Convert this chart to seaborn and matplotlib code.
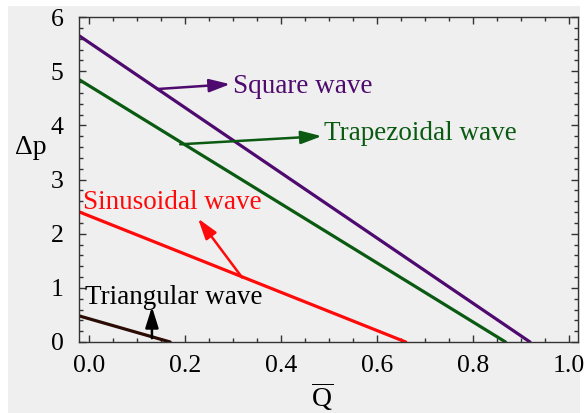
import numpy as np
import pandas as pd
import matplotlib
matplotlib.use("Agg")
import matplotlib.pyplot as plt
from matplotlib.patches import Rectangle
from matplotlib.ticker import MultipleLocator
import seaborn as sns

# ---- data ----
waves = ["Square wave", "Trapezoidal wave", "Sinusoidal wave", "Triangular wave"]
q_start = [-0.02, -0.02, -0.02, -0.02]
dp_start = [5.65, 4.84, 2.40, 0.48]
q_end = [0.919, 0.868, 0.660, 0.169]
dp_end = [0.0, 0.0, 0.0, 0.0]
colors = ["#4e0a6e", "#0b5a12", "#ff0a0a", "#2a0c04"]
text_colors = ["#4e0a6e", "#0b5a12", "#ff0a0a", "#000000"]
x_ticks = [0.0, 0.2, 0.4, 0.6, 0.8, 1.0]
x_tick_labels = ["0.0", "0.2", "0.4", "0.6", "0.8", "1.0"]
y_ticks = [0, 1, 2, 3, 4, 5, 6]

rows = []
for w, qs, ds, qe, de in zip(waves, q_start, dp_start, q_end, dp_end):
    rows.append({"wave": w, "Q": qs, "dp": ds})
    rows.append({"wave": w, "Q": qe, "dp": de})
df = pd.DataFrame(rows)

sns.set_theme(style="ticks")
plt.rcParams["font.family"] = ["Liberation Serif", "DejaVu Serif"]
plt.rcParams["mathtext.fontset"] = "custom"
plt.rcParams["mathtext.rm"] = "Liberation Serif"
plt.rcParams["mathtext.it"] = "Liberation Serif:italic"

bg = "#efefef"
fig = plt.figure(figsize=(5.84, 4.13), dpi=100, facecolor="white")
fig.patches.append(Rectangle((8 / 584, 0), (580 - 8) / 584, (413 - 6) / 413,
                             transform=fig.transFigure, facecolor=bg,
                             edgecolor="none", zorder=-10))
ax = fig.add_axes([79 / 584, (413 - 342) / 413, (578 - 79) / 584, (342 - 17) / 413])
ax.set_facecolor(bg)

sns.lineplot(data=df, x="Q", y="dp", hue="wave", palette=dict(zip(waves, colors)),
             linewidth=2.3, legend=False, ax=ax, sort=False)

ax.set_xlim(-0.021, 1.019)
ax.set_ylim(0, 6)
ax.set_xticks(x_ticks)
ax.set_xticklabels(x_tick_labels)
ax.set_yticks(y_ticks)
ax.xaxis.set_minor_locator(MultipleLocator(0.05))
ax.yaxis.set_minor_locator(MultipleLocator(0.2))
ax.tick_params(which="both", direction="in", top=True, right=True,
               colors="#333333", labelcolor="black", width=1.0)
ax.tick_params(which="major", length=5, labelsize=18.5)
ax.tick_params(axis="x", which="major", pad=9)
ax.tick_params(axis="y", which="major", pad=11)
ax.tick_params(which="minor", length=3)
for s in ax.spines.values():
    s.set_color("#333333")
    s.set_linewidth(1.0)

ax.set_xlabel(r"$\overline{\mathrm{Q}}$", fontsize=20, color="black")
ax.xaxis.set_label_coords(0.487, -0.17)
ax.xaxis.label.set_verticalalignment("center")
ax.set_ylabel("Δp", fontsize=20, rotation=0, color="black")
ax.yaxis.set_label_coords(-0.096, 0.60)
ax.yaxis.label.set_verticalalignment("center")
ax.yaxis.label.set_horizontalalignment("center")

# annotations: (text pos, arrow tail, arrow head)
text_pos = [(0.30, 4.72), (0.49, 3.84), (-0.012, 2.57), (-0.008, 0.83)]
arrow_tail = [(0.142, 4.67), (0.19, 3.65), (0.319, 1.19), (0.131, 0.07)]
arrow_head = [(0.294, 4.76), (0.485, 3.80), (0.227, 2.28), (0.131, 0.65)]
for w, c, tp, at, ah in zip(waves, text_colors, text_pos, arrow_tail, arrow_head):
    ax.text(tp[0], tp[1], w, color=c, fontsize=19.5, ha="left", va="center")
    ax.annotate("", xy=ah, xytext=at,
                arrowprops=dict(arrowstyle="-|>,head_length=0.7,head_width=0.22",
                                color=c, lw=1.8, mutation_scale=18,
                                shrinkA=0, shrinkB=0))

fig.savefig("out.png", dpi=100, facecolor=fig.get_facecolor())
